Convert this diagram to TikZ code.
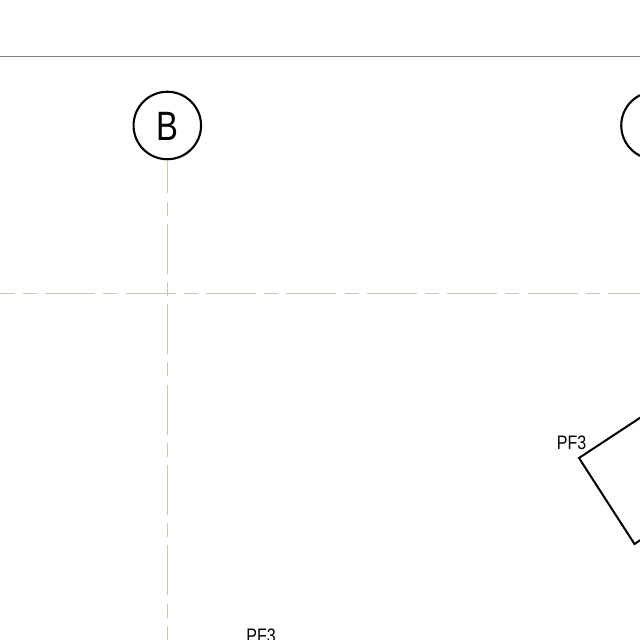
\documentclass[tikz,border=0pt]{standalone}
\usepackage{fontspec}
\setmainfont{Liberation Sans}
\tikzset{
  gridbubble/.style={circle,draw=black,line width=2.1pt,inner sep=0pt,minimum size=67.5pt},
  bubbletext/.style={inner sep=0pt,font=\fontsize{41}{41}\selectfont,xscale=.8},
  gridaxis/.style={draw=axiscol,line width=1.1pt},
  topline/.style={draw=black!50,line width=0.9pt},
  plate/.style={draw=black,line width=2pt,line join=miter},
  tag/.style={inner sep=0pt,font=\fontsize{19.5}{19.5}\selectfont,xscale=.82,anchor=base}
}
\definecolor{axiscol}{HTML}{C9C5B2}
\begin{document}
\begin{tikzpicture}[x=1pt,y=-1pt]
\useasboundingbox (0,0) rectangle (640,640);
\clip (0,0) rectangle (640,640);
\fill[white] (0,0) rectangle (640,640);
\coordinate (tl) at (0,56.5);
\coordinate (tr) at (640,56.5);
\draw[topline] (tl) -- (tr);
\node[gridbubble] (gridB) at (167.3,125.5) {};
\node[bubbletext] (letterB) at (167,126.5) {B};
\node[gridbubble] (gridC) at (655,125.5) {};
\coordinate (axisBend) at (167.3,640);
\coordinate (axisL) at (0,293.5);
\coordinate (axisR) at (640,293.5);
\draw[gridaxis,dash pattern=on 50pt off 8.2pt on 14pt off 8.2pt,dash phase=35.2pt] (axisL) -- (axisR);
\draw[gridaxis,dash pattern=on 50pt off 8.2pt on 14pt off 8.2pt,dash phase=17pt] (gridB.south) -- (axisBend);
\coordinate (p1) at (700.5,378);
\coordinate (p2) at (579,458);
\coordinate (p3) at (634.5,544);
\coordinate (p4) at (755.5,464);
\draw[plate] (p1) -- (p2) -- (p3) -- (p4);
\node[tag] (pfa) at (571.5,449) {PF3};
\node[tag] (pfb) at (261,642.5) {PF3};
\end{tikzpicture}
\end{document}
